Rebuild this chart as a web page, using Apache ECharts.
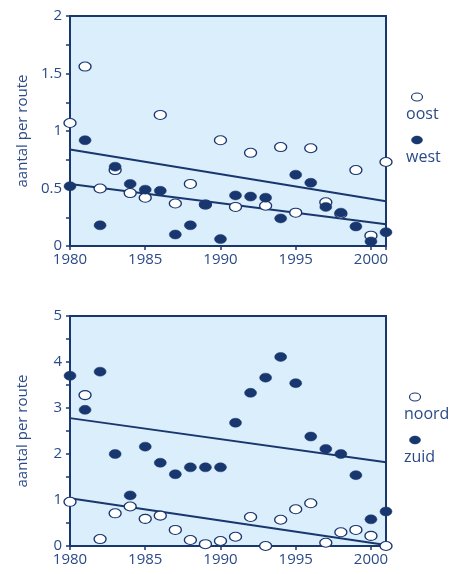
<!DOCTYPE html>
<html>
<head>
<meta charset="utf-8">
<script src="https://cdn.jsdelivr.net/npm/echarts@6/dist/echarts.min.js"></script>
<style>
html,body{margin:0;padding:0;background:#fff;}
#c{width:454px;height:574px;}
</style>
</head>
<body>
<div id="c"></div>
<script>
// Years
var years = [1980,1981,1982,1983,1984,1985,1986,1987,1988,1989,1990,1991,1992,1993,1994,1995,1996,1997,1998,1999,2000,2001];
// Top panel
var oost = [1.07,1.56,0.50,0.66,0.46,0.42,1.14,0.37,0.54,0.36,0.92,0.34,0.81,0.35,0.86,0.29,0.85,0.38,0.28,0.66,0.09,0.73];
var west = [0.52,0.92,0.18,0.69,0.54,0.49,0.48,0.10,0.18,0.36,0.06,0.44,0.43,0.42,0.24,0.62,0.55,0.34,0.29,0.17,0.04,0.12];
var oostTrend = [0.84,0.39]; // at 1980, 2001
var westTrend = [0.54,0.19];
// Bottom panel
var noord = [0.96,3.28,0.15,0.71,0.86,0.59,0.66,0.35,0.13,0.04,0.11,0.20,0.63,0.00,0.57,0.80,0.93,0.07,0.30,0.35,0.22,0.00];
var zuid = [3.70,2.96,3.79,2.00,1.10,2.16,1.81,1.56,1.71,1.71,1.71,2.68,3.33,3.66,4.11,3.54,2.38,2.11,2.00,1.54,0.58,0.75];
var zuidTrend = [2.78,1.82];
var noordTrend = [1.04,0.02];
var trendYears = [1980,2001];
var yTitle = 'aantal per route';
var legendTop = ['oost','west'];
var legendBottom = ['noord','zuid'];

var NAVY = '#19376f';
var TXT = '#2b4a88';
var BG = '#dbeefb';
var FONT = 'Open Sans';

function pairs(xs, ys){ return xs.map(function(x,i){ return [x, ys[i]]; }); }

function xAxis(gi){
  return {
    gridIndex: gi, type:'value', min:1980, max:2001, interval:5,
    axisLine:{show:true, lineStyle:{color:NAVY, width:2}},
    axisTick:{show:true, length:4, lineStyle:{color:NAVY, width:1.5}},
    axisLabel:{color:TXT, fontSize:15, fontFamily:FONT, margin:6,
      formatter:function(v){ return (v % 5 === 0) ? String(v) : ''; }},
    splitLine:{show:false}
  };
}
function yAxis(gi, max, interval, labelStep){
  return {
    gridIndex: gi, type:'value', min:0, max:max, interval:interval,
    name: yTitle, nameLocation:'middle', nameGap:40, nameRotate:90,
    nameTextStyle:{color:TXT, fontSize:15, fontFamily:FONT},
    axisLine:{show:true, lineStyle:{color:NAVY, width:2}},
    axisTick:{show:true, length:4, lineStyle:{color:NAVY, width:1.5}},
    axisLabel:{color:TXT, fontSize:15, fontFamily:FONT, margin:8,
      formatter:function(v){
        var r = Math.round(v/labelStep*1000)/1000;
        return (Math.abs(r - Math.round(r)) < 1e-6) ? String(Math.round(v*100)/100) : '';
      }},
    splitLine:{show:false}
  };
}
function scatter(name, xi, data, filled){
  return {
    name:name, type:'scatter', xAxisIndex:xi, yAxisIndex:xi,
    data:data, symbol:'circle', symbolSize:[12,9], clip:false,
    itemStyle: filled ? {color:NAVY, borderColor:NAVY, borderWidth:0.5, opacity:1}
                      : {color:'#ffffff', borderColor:NAVY, borderWidth:1.2, opacity:1},
    z: filled ? 4 : 3
  };
}
function trend(xi, vals){
  return {
    type:'line', xAxisIndex:xi, yAxisIndex:xi, data:pairs(trendYears, vals),
    showSymbol:false, symbol:'none', lineStyle:{color:NAVY, width:2}, z:2,
    silent:true
  };
}
function legendGraphics(names, xc, yTop){
  var g = [];
  g.push({type:'ellipse', shape:{cx:xc, cy:yTop, rx:5.5, ry:4},
    style:{fill:'#fff', stroke:NAVY, lineWidth:1.2}});
  g.push({type:'text', left:xc-11, top:yTop+9,
    style:{text:names[0], fill:TXT, font:'16px "'+FONT+'"'}});
  g.push({type:'ellipse', shape:{cx:xc, cy:yTop+43, rx:5.5, ry:4},
    style:{fill:NAVY, stroke:NAVY, lineWidth:0.5}});
  g.push({type:'text', left:xc-11, top:yTop+52,
    style:{text:names[1], fill:TXT, font:'16px "'+FONT+'"'}});
  return g;
}

var chart = echarts.init(document.getElementById('c'), null, {renderer:'canvas'});
var gridStyle = {show:true, backgroundColor:BG, borderColor:NAVY, borderWidth:2};
chart.setOption({
  animation:false,
  grid:[
    Object.assign({left:70, top:16, width:316, height:230}, gridStyle),
    Object.assign({left:70, top:316, width:316, height:230}, gridStyle)
  ],
  xAxis:[xAxis(0), xAxis(1)],
  yAxis:[yAxis(0, 2, 0.25, 0.5), yAxis(1, 5, 0.5, 1)],
  series:[
    trend(0, oostTrend), trend(0, westTrend),
    scatter('oost', 0, pairs(years, oost), false),
    scatter('west', 0, pairs(years, west), true),
    trend(1, zuidTrend), trend(1, noordTrend),
    scatter('noord', 1, pairs(years, noord), false),
    scatter('zuid', 1, pairs(years, zuid), true)
  ],
  graphic: legendGraphics(legendTop, 417, 97).concat(legendGraphics(legendBottom, 415, 397))
});
</script>
</body>
</html>
